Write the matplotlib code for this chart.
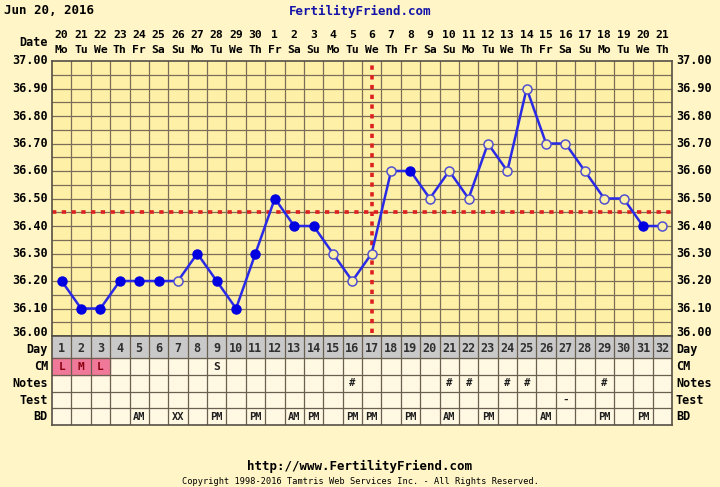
import matplotlib
matplotlib.use("Agg")
import matplotlib.pyplot as plt
import matplotlib.transforms as mtransforms
from matplotlib.patches import Rectangle

# ---------------- data ----------------
cycle_days = list(range(1, 33))
date_labels = ["20", "21", "22", "23", "24", "25", "26", "27", "28", "29", "30",
               "1", "2", "3", "4", "5", "6", "7", "8", "9", "10", "11", "12",
               "13", "14", "15", "16", "17", "18", "19", "20", "21"]
weekday_labels = ["Mo", "Tu", "We", "Th", "Fr", "Sa", "Su"] * 4 + ["Mo", "Tu", "We", "Th"]
temps = [36.20, 36.10, 36.10, 36.20, 36.20, 36.20, 36.20, 36.30, 36.20, 36.10,
         36.30, 36.50, 36.40, 36.40, 36.30, 36.20, 36.30, 36.60, 36.60, 36.50,
         36.60, 36.50, 36.70, 36.60, 36.90, 36.70, 36.70, 36.60, 36.50, 36.50,
         36.40, 36.40]
# True = filled marker, False = open marker
filled = [True, True, True, True, True, True, False, True, True, True,
          True, True, True, True, False, False, False, False, True, False,
          False, False, False, False, False, False, False, False, False, False,
          True, False]
coverline = 36.45
ovulation_day = 17
y_ticks = [36.00, 36.10, 36.20, 36.30, 36.40, 36.50, 36.60, 36.70, 36.80, 36.90, 37.00]

cm_entries = {1: "L", 2: "M", 3: "L", 9: "S"}
cm_flow_days = [1, 2, 3]
notes_entries = {16: "#", 21: "#", 22: "#", 24: "#", 25: "#", 29: "#"}
test_entries = {27: "-"}
bd_entries = {5: "AM", 7: "XX", 9: "PM", 11: "PM", 13: "AM", 14: "PM", 16: "PM",
              17: "PM", 19: "PM", 21: "AM", 23: "PM", 26: "AM", 29: "PM", 31: "PM"}
row_labels = ["Day", "CM", "Notes", "Test", "BD"]

# ---------------- style ----------------
W, H = 720, 487
OUTER_BG = "#FFF5C6"
PLOT_BG = "#FFF0A8"
CELL_BG = "#FFF8E2"
DAY_BG = "#C9C9C9"
GRID = "#7A6E58"
BLUE = "#2A2AE6"
RED = "#DD2020"
FONT = "DejaVu Sans Mono"

fig = plt.figure(figsize=(W / 100, H / 100), dpi=100)
fig.patch.set_facecolor(OUTER_BG)

def px_axes(x0, y0, x1, y1):
    return fig.add_axes([x0 / W, 1 - y1 / H, (x1 - x0) / W, (y1 - y0) / H])

def ftext(x, y, s, **kw):
    kw.setdefault("family", FONT)
    kw.setdefault("weight", "bold")
    fig.text(x / W, 1 - y / H, s, **kw)

L, R, T, B = 52, 672, 61, 336
ax = px_axes(L, T, R, B)
ax.set_facecolor(PLOT_BG)
ax.set_xlim(0.5, 32.5)
ax.set_ylim(36.0, 37.0)
ax.set_xticks([])
ax.set_yticks([])
for s in ax.spines.values():
    s.set_color("#555045")
    s.set_linewidth(1.2)

# grid
for k in range(1, 32):
    ax.axvline(k + 0.5, color=GRID, lw=0.9, zorder=1)
for k in range(1, 20):
    ax.axhline(36.0 + k * 0.05, color=GRID, lw=0.9, zorder=1)

# coverline and ovulation line
ax.axhline(coverline, color=RED, lw=2.6, ls=(0, (1.2, 1.5)), zorder=2)
ax.plot([ovulation_day, ovulation_day], [36.01, 37.0], color=RED, lw=2.6,
        ls=(0, (1.2, 1.5)), zorder=2, clip_on=False)

# temperature line
ax.plot(cycle_days, temps, color=BLUE, lw=1.8, zorder=3)
fx = [d for d, f in zip(cycle_days, filled) if f]
fy = [t for t, f in zip(temps, filled) if f]
ox = [d for d, f in zip(cycle_days, filled) if not f]
oy = [t for t, f in zip(temps, filled) if not f]
ax.plot(fx, fy, "o", ms=6.5, mfc="#0000E0", mec="#0000E0", zorder=4)
ax.plot(ox, oy, "o", ms=6.5, mfc=PLOT_BG, mec="#5050D0", mew=1.1, zorder=4)

# y tick labels both sides
for v in y_ticks:
    ypx = B - (v - 36.0) * (B - T)
    if v == 36.00:
        ypx -= 4
    ftext(48, ypx, f"{v:.2f}", ha="right", va="center", fontsize=8.5)
    ftext(676, ypx, f"{v:.2f}", ha="left", va="center", fontsize=8.5)

# header
ftext(4, 11, "Jun 20, 2016", ha="left", va="center", fontsize=9)
ftext(360, 11, "FertilityFriend.com", ha="center", va="center", fontsize=9,
      color="#1414A8")
ftext(48, 42, "Date", ha="right", va="center", fontsize=8.5)
blend = mtransforms.blended_transform_factory(ax.transData, fig.transFigure)
for d, dl, wl in zip(cycle_days, date_labels, weekday_labels):
    fig.text(d, 1 - 35 / H, dl, transform=blend, ha="center", va="center",
             fontsize=8.2, family=FONT, weight="bold")
    fig.text(d, 1 - 50 / H, wl, transform=blend, ha="center", va="center",
             fontsize=8.2, family=FONT, weight="bold")

# ---------------- table ----------------
TB = 425
tax = px_axes(L, B, R, TB)
tax.set_xlim(0.5, 32.5)
row_edges = [0, 22, 39, 56, 72, 89]
tax.set_ylim(row_edges[-1], 0)
tax.set_xticks([])
tax.set_yticks([])
tax.set_facecolor(CELL_BG)
for s in tax.spines.values():
    s.set_color("#555045")
    s.set_linewidth(1.2)

tax.add_patch(Rectangle((0.5, 0), 32, row_edges[1], color=DAY_BG, zorder=0))
for d in cm_flow_days:
    tax.add_patch(Rectangle((d - 0.5, row_edges[1]), 1, row_edges[2] - row_edges[1],
                            color="#F07898", zorder=0))
for k in range(1, 32):
    tax.axvline(k + 0.5, color="#6A6050", lw=0.9, zorder=1)
for e in row_edges[1:-1]:
    tax.axhline(e, color="#6A6050", lw=0.9, zorder=1)

def row_mid(i):
    return (row_edges[i] + row_edges[i + 1]) / 2

for d in cycle_days:
    tax.text(d, row_mid(0) + 1, str(d), ha="center", va="center", fontsize=8.5,
             family=FONT, weight="bold", color="#303030")
for d, s in cm_entries.items():
    c = "#8A0010" if d in cm_flow_days else "#202020"
    tax.text(d, row_mid(1), s, ha="center", va="center", fontsize=8,
             family=FONT, weight="bold", color=c)
for d, s in notes_entries.items():
    tax.text(d, row_mid(2), s, ha="center", va="center", fontsize=7.5,
             family=FONT, weight="bold", color="#202020")
for d, s in test_entries.items():
    tax.text(d, row_mid(3), s, ha="center", va="center", fontsize=8,
             family=FONT, weight="bold", color="#202020")
for d, s in bd_entries.items():
    tax.text(d, row_mid(4), s, ha="center", va="center", fontsize=7.5,
             family=FONT, weight="bold", color="#202020")

for i, lab in enumerate(row_labels):
    ypx = B + row_mid(i) + (2 if i == 0 else 0)
    ftext(48, ypx, lab, ha="right", va="center", fontsize=8.5)
    ftext(676, ypx, lab, ha="left", va="center", fontsize=8.5)

# footer
ftext(360, 466, "http://www.FertilityFriend.com", ha="center", va="center", fontsize=9)
ftext(360, 481, "Copyright 1998-2016 Tamtris Web Services Inc. - All Rights Reserved.",
      ha="center", va="center", fontsize=6.2, weight="normal")

fig.savefig("out.png", dpi=100, facecolor=OUTER_BG)
